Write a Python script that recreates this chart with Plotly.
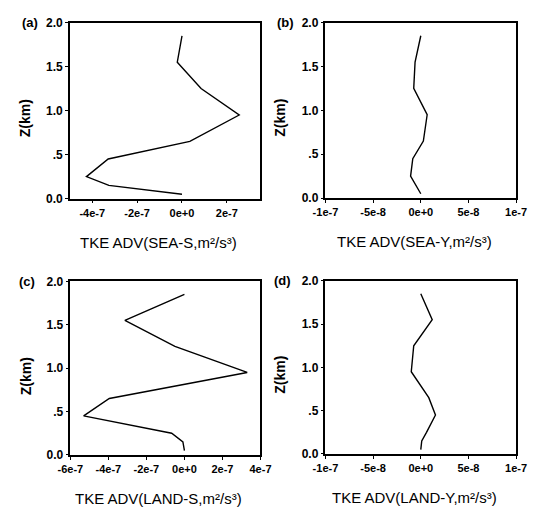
import plotly.graph_objects as go

# Shared model levels (km)
z_levels = [0.05, 0.15, 0.25, 0.45, 0.65, 0.95, 1.25, 1.55, 1.85]

# TKE advection profiles (m^2/s^3)
sea_s = [0.0, -3.26e-7, -4.26e-7, -3.29e-7, 0.35e-7, 2.55e-7, 0.85e-7, -0.21e-7, 0.0]
sea_y = [0.0, -0.5e-8, -1.07e-8, -0.84e-8, 0.27e-8, 0.67e-8, -0.74e-8, -0.6e-8, 0.0]
land_s = [0.0, -0.08e-7, -0.67e-7, -5.3e-7, -3.95e-7, 3.3e-7, -0.5e-7, -3.13e-7, 0.0]
land_y = [0.0, 0.1e-8, 0.6e-8, 1.54e-8, 0.84e-8, -1.0e-8, -0.74e-8, 1.2e-8, 0.0]

panel_labels = ["(a)", "(b)", "(c) ", "(d) "]
x_titles = ["TKE ADV(SEA-S,m²/s³)",
            "TKE ADV(SEA-Y,m²/s³)",
            "TKE ADV(LAND-S,m²/s³)",
            "TKE ADV(LAND-Y,m²/s³)"]
y_title = "Z(km)"

y_tickvals = [0, 0.5, 1.0, 1.5, 2.0]
y_ticktext = ["0.0", ".5", "1.0", "1.5", "2.0"]

xa_ticks = [-4e-7, -2e-7, 0, 2e-7]
xa_text = ["-4e-7", "-2e-7", "0e+0", "2e-7"]
xb_ticks = [-1e-7, -5e-8, 0, 5e-8, 1e-7]
xb_text = ["-1e-7", "-5e-8", "0e+0", "5e-8", "1e-7"]
xc_ticks = [-6e-7, -4e-7, -2e-7, 0, 2e-7, 4e-7]
xc_text = ["-6e-7", "-4e-7", "-2e-7", "0e+0", "2e-7", "4e-7"]

W, H = 540, 513
FONT = "Liberation Sans, Arial, sans-serif"

series = [sea_s, sea_y, land_s, land_y]
x_ranges = [[-5e-7, 3.5e-7], [-1e-7, 1e-7], [-6e-7, 4e-7], [-1e-7, 1e-7]]
x_tick_sets = [(xa_ticks, xa_text), (xb_ticks, xb_text), (xc_ticks, xc_text), (xb_ticks, xb_text)]

# panel pixel boxes: left, right, top, bottom
boxes = [(59.5, 259, 16, 197), (327, 526.5, 16, 196.5),
         (60, 259, 282, 460.5), (327, 526.5, 281.5, 459.5)]

fig = go.Figure()
annotations = []
for i in range(4):
    l, r, t, b = boxes[i]
    xn = "x" if i == 0 else f"x{i+1}"
    yn = "y" if i == 0 else f"y{i+1}"
    fig.add_trace(go.Scatter(x=series[i], y=z_levels, mode="lines",
                             line=dict(color="black", width=1.4),
                             xaxis=xn, yaxis=yn, showlegend=False))
    axis_common = dict(showgrid=False, zeroline=False, showline=True, mirror=True,
                       linecolor="black", linewidth=1.5, ticks="outside", ticklen=3,
                       tickwidth=1, tickcolor="black")
    xkey = "xaxis" if i == 0 else f"xaxis{i+1}"
    ykey = "yaxis" if i == 0 else f"yaxis{i+1}"
    tv, tt = x_tick_sets[i]
    fig.update_layout(**{
        xkey: dict(domain=[l / W, r / W], range=x_ranges[i], anchor=yn,
                   tickvals=tv, ticktext=tt,
                   tickfont=dict(family=FONT, size=11, color="black", weight="bold"),
                   **axis_common),
        ykey: dict(domain=[1 - b / H, 1 - t / H], range=[0, 2], anchor=xn,
                   tickvals=y_tickvals, ticktext=y_ticktext,
                   tickfont=dict(family=FONT, size=12, color="black", weight="bold"),
                   **axis_common),
    })
    # panel label
    annotations.append(dict(text=panel_labels[i], x=(l - 31) / W, y=1 - t / H,
                            xref="paper", yref="paper", xanchor="right", yanchor="middle",
                            showarrow=False,
                            font=dict(family=FONT, size=13, color="black", weight="bold")))
    # x title
    annotations.append(dict(text=x_titles[i], x=(l + r) / 2 / W - 7 / W,
                            y=1 - (b + 45) / H,
                            xref="paper", yref="paper", xanchor="center", yanchor="middle",
                            showarrow=False,
                            font=dict(family=FONT, size=15, color="black")))
    # y title
    annotations.append(dict(text=y_title, x=(l - 47) / W, y=1 - ((t + b) / 2 + 8) / H,
                            xref="paper", yref="paper", xanchor="center", yanchor="middle",
                            textangle=-90, showarrow=False,
                            font=dict(family=FONT, size=14, color="black", weight="bold")))

fig.update_layout(width=W, height=H, margin=dict(l=0, r=0, t=0, b=0),
                  paper_bgcolor="white", plot_bgcolor="white",
                  annotations=annotations)

fig.write_html("out.html")
